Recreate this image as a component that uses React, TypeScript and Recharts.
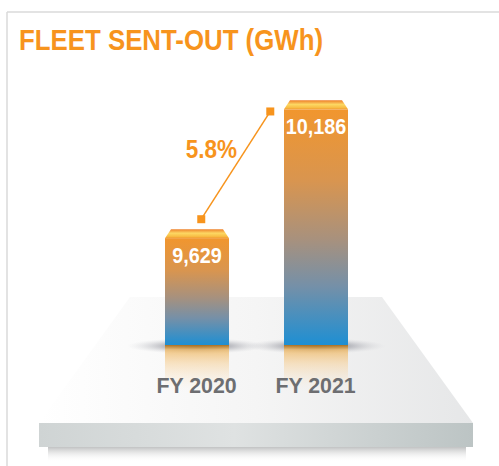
import { ComposedChart, Bar, Line, XAxis, YAxis, LabelList } from "recharts";

const years = ["FY 2020", "FY 2021"];
const sentOut = [9629, 10186];
// connector markers sit a little off the bar centres
const trendX = [0.54, 1.12];
const trendY = [9672, 10138];

const data = years.map((year, i) => ({ year, value: sentOut[i], tx: trendX[i], ty: trendY[i] }));
const growth = (((sentOut[1] - sentOut[0]) / sentOut[0]) * 100).toFixed(1) + "%";

const ORANGE = "#F7941D";
const FONT = '"Liberation Sans", Arial, sans-serif';

// the source uses a condensed face, so squeeze Liberation Sans horizontally
function NarrowText({ x, y, squeeze, children, ...rest }: any) {
  return (
    <text transform={`translate(${x},${y}) scale(${squeeze},1)`} fontFamily={FONT} fontWeight="bold" {...rest}>
      {children}
    </text>
  );
}

function GlassBar(props: any) {
  const { x, y, width, height } = props;
  const cap = 9;
  const bottom = y + height;
  return (
    <g>
      <ellipse cx={x + width / 2} cy={bottom + 1} rx={width / 2 + 38} ry={8} fill="url(#floorShadow)" />
      <rect x={x} y={bottom} width={width} height={46} fill="url(#reflect)" />
      <rect x={x} y={y + cap} width={width} height={height - cap} fill="url(#barFill)" />
      <polygon
        points={`${x + 6},${y} ${x + width - 6},${y} ${x + width},${y + cap} ${x},${y + cap}`}
        fill="url(#capFill)"
      />
    </g>
  );
}

function YearTick(props: any) {
  const { x, y, payload } = props;
  return (
    <NarrowText x={x} y={y + 48} squeeze={0.97} textAnchor="middle" fill="#6D6E71" fontSize={22}>
      {payload.value}
    </NarrowText>
  );
}

function Backdrop() {
  return (
    <svg width={499} height={466} style={{ position: "absolute", left: 0, top: 0 }}>
      <defs>
        <linearGradient id="topFace" x1="0" y1="0" x2="1" y2="0">
          <stop offset="0" stopColor="#ffffff" />
          <stop offset="0.5" stopColor="#f5f5f5" />
          <stop offset="1" stopColor="#e6e7e8" />
        </linearGradient>
        <linearGradient id="frontFace" x1="0" y1="0" x2="1" y2="0">
          <stop offset="0" stopColor="#cfd4d4" />
          <stop offset="0.45" stopColor="#dfe2e2" />
          <stop offset="1" stopColor="#bcc4c4" />
        </linearGradient>
        <linearGradient id="slabShadow" x1="0" y1="0" x2="0" y2="1">
          <stop offset="0" stopColor="#8e9091" stopOpacity={0.55} />
          <stop offset="1" stopColor="#ffffff" stopOpacity={0} />
        </linearGradient>
      </defs>
      <line x1={7} y1={12} x2={499} y2={12} stroke="#dadada" strokeWidth={1.5} />
      <line x1={7} y1={12} x2={7} y2={466} stroke="#dadada" strokeWidth={1.5} />
      <text
        x={19}
        y={50}
        fill={ORANGE}
        fontFamily={FONT}
        fontWeight="bold"
        fontSize={30}
        textLength={304}
        lengthAdjust="spacingAndGlyphs"
      >
        FLEET SENT-OUT (GWh)
      </text>
      <polygon points="130,297 382,297 473,423 39,423" fill="url(#topFace)" />
      <rect x={48} y={447} width={418} height={15} fill="url(#slabShadow)" />
      <rect x={39} y={423} width={434} height={24} fill="url(#frontFace)" />
    </svg>
  );
}

export default function App() {
  return (
    <div style={{ position: "absolute", left: 0, top: 0, width: 499, height: 466, background: "#fff" }}>
      <Backdrop />
      <div style={{ position: "absolute", left: 0, top: 0 }}>
        <ComposedChart width={499} height={466} data={data} margin={{ top: 74, right: 124, bottom: 71, left: 137 }}>
          <defs>
            <linearGradient id="barFill" x1="0" y1="0" x2="0" y2="1">
              <stop offset="0" stopColor="#F1962E" />
              <stop offset="0.3" stopColor="#D9954F" />
              <stop offset="0.55" stopColor="#A8917D" />
              <stop offset="0.75" stopColor="#7590A8" />
              <stop offset="1" stopColor="#1E8FD3" />
            </linearGradient>
            <linearGradient id="capFill" x1="0" y1="0" x2="0" y2="1">
              <stop offset="0" stopColor="#EE7F2A" />
              <stop offset="0.45" stopColor="#FCD763" />
              <stop offset="0.8" stopColor="#F8BE45" />
              <stop offset="1" stopColor="#F29A33" />
            </linearGradient>
            <linearGradient id="reflect" x1="0" y1="0" x2="0" y2="1">
              <stop offset="0" stopColor="#A86E1E" stopOpacity={0.95} />
              <stop offset="0.1" stopColor="#EDB45C" stopOpacity={0.75} />
              <stop offset="0.4" stopColor="#F6CF95" stopOpacity={0.55} />
              <stop offset="1" stopColor="#FBE8CF" stopOpacity={0} />
            </linearGradient>
            <radialGradient id="floorShadow" cx="0.5" cy="0.5" r="0.5">
              <stop offset="0" stopColor="#3f414a" stopOpacity={0.85} />
              <stop offset="0.5" stopColor="#7d7f8a" stopOpacity={0.45} />
              <stop offset="1" stopColor="#c8c9ce" stopOpacity={0} />
            </radialGradient>
          </defs>
          <XAxis
            xAxisId="cat"
            dataKey="year"
            axisLine={false}
            tickLine={false}
            tickSize={0}
            tickMargin={0}
            height={50}
            tick={<YearTick />}
            interval={0}
          />
          <XAxis xAxisId="t" type="number" dataKey="tx" domain={[0, 2]} hide />
          <YAxis hide domain={[9128, 10300]} />
          <Bar xAxisId="cat" dataKey="value" barSize={64} shape={<GlassBar />} isAnimationActive={false}>
            <LabelList
              dataKey="value"
              content={(p: any) => (
                <NarrowText
                  x={p.x + p.width / 2}
                  y={p.y + 34}
                  squeeze={0.9}
                  textAnchor="middle"
                  fill="#fff"
                  fontSize={22}
                >
                  {Number(p.value).toLocaleString("en-US")}
                </NarrowText>
              )}
            />
          </Bar>
          <Line
            xAxisId="t"
            dataKey="ty"
            stroke={ORANGE}
            strokeWidth={1.5}
            isAnimationActive={false}
            dot={(p: any) => <rect key={p.index} x={p.cx - 4} y={p.cy - 4} width={8} height={8} fill={ORANGE} />}
            activeDot={false}
            label={(p: any) =>
              p.index === 0 ? (
                <NarrowText
                  key="growth"
                  x={p.x + 10}
                  y={p.y - 61}
                  squeeze={0.9}
                  textAnchor="middle"
                  fill={ORANGE}
                  fontSize={25}
                >
                  {growth}
                </NarrowText>
              ) : (
                <g key={p.index} />
              )
            }
          />
        </ComposedChart>
      </div>
    </div>
  );
}
